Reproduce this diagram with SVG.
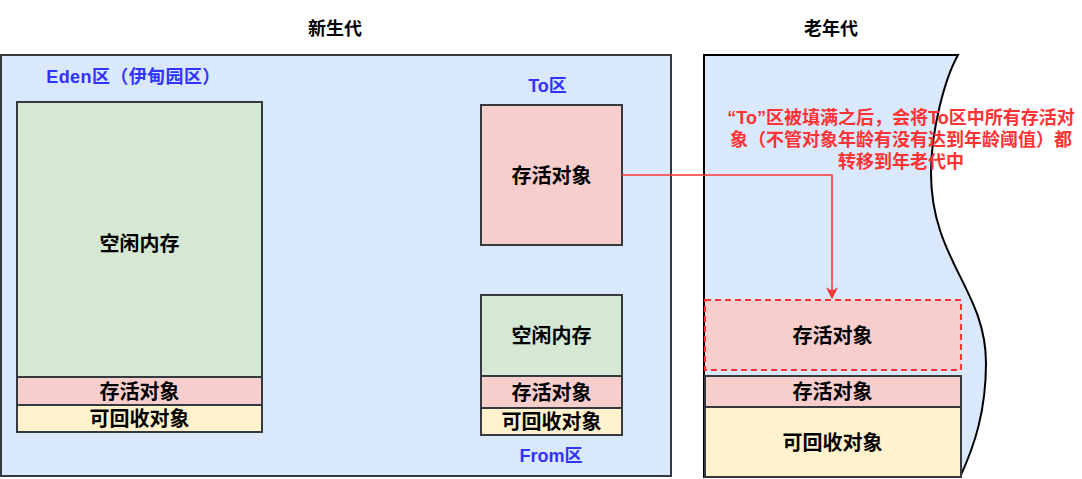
<svg xmlns="http://www.w3.org/2000/svg" width="1082" height="479" viewBox="0 0 1082 479">
  <style>
    text { font-family: "Liberation Sans", "Noto Sans CJK SC", sans-serif; font-weight: bold; text-anchor: middle; dominant-baseline: central; }
    .title { font-size: 18px; fill: #000000; }
    .zone { font-size: 18px; fill: #3333ff; }
    .note { font-size: 18px; fill: #ff3333; }
    .lbl { font-size: 20px; fill: #000000; }
    .area { fill: #dae8fc; stroke: #36393d; stroke-width: 2; }
    .free { fill: #d5e8d4; stroke: #36393d; stroke-width: 2; }
    .live { fill: #f8cecc; stroke: #36393d; stroke-width: 2; }
    .dead { fill: #fff2cc; stroke: #36393d; stroke-width: 2; }
    .moved { fill: #f8cecc; stroke: #ff3333; stroke-width: 2; stroke-dasharray: 6 4; }
    .flow { fill: none; stroke: #ff3333; stroke-width: 1.5; }
  </style>
  <defs>
    <marker id="arrowRed" viewBox="0 0 10 10" refX="9" refY="5" markerWidth="12" markerHeight="12" markerUnits="userSpaceOnUse" orient="auto">
      <path d="M0,0 L10,5 L0,10 L3,5 Z" fill="#ff3333"/>
    </marker>
  </defs>

  <rect width="1082" height="479" fill="#ffffff"/>

  <!-- young generation -->
  <g id="young-gen">
    <rect class="area" x="1" y="55" width="670" height="421"/>
    <text class="title" x="335" y="28.5">新生代</text>
  </g>

  <!-- old generation, wavy right edge -->
  <g id="old-gen">
    <path d="M704,55 L958,55 C945,78 931,130 931,173 C931,260 986,290 986,363 C986,410 975,445 960,477 L704,477 Z" fill="#dae8fc" stroke="#000000" stroke-width="2"/>
    <text class="title" x="831" y="28.5">老年代</text>
  </g>

  <!-- Eden space -->
  <g id="eden">
    <text class="zone" x="133.5" y="77" letter-spacing="0.4">Eden区（伊甸园区）</text>
    <rect class="free" x="17" y="102" width="245" height="275"/>
    <text class="lbl" x="139.5" y="244">空闲内存</text>
    <rect class="live" x="17" y="377" width="245" height="28"/>
    <text class="lbl" x="139.5" y="392">存活对象</text>
    <rect class="dead" x="17" y="405" width="245" height="27"/>
    <text class="lbl" x="139.5" y="418.5">可回收对象</text>
  </g>

  <!-- To survivor space -->
  <g id="to-space">
    <text class="zone" x="547.5" y="85.5">To区</text>
    <rect class="live" x="481" y="105" width="141" height="140"/>
    <text class="lbl" x="551.5" y="175.5">存活对象</text>
  </g>

  <!-- From survivor space -->
  <g id="from-space">
    <rect class="free" x="481" y="295" width="141" height="81"/>
    <text class="lbl" x="551.5" y="336">空闲内存</text>
    <rect class="live" x="481" y="376" width="141" height="32"/>
    <text class="lbl" x="551.5" y="392.5">存活对象</text>
    <rect class="dead" x="481" y="408" width="141" height="27"/>
    <text class="lbl" x="551.5" y="421.5">可回收对象</text>
    <text class="zone" x="551" y="455.5">From区</text>
  </g>

  <!-- old generation contents -->
  <g id="old-moved">
    <rect class="moved" x="705" y="300" width="256" height="70"/>
    <text class="lbl" x="832.5" y="336">存活对象</text>
  </g>
  <g id="old-live">
    <rect class="live" x="705" y="376" width="256" height="31"/>
    <text class="lbl" x="832.5" y="391.5">存活对象</text>
  </g>
  <g id="old-dead">
    <rect class="dead" x="705" y="407" width="256" height="70"/>
    <text class="lbl" x="832.5" y="443">可回收对象</text>
  </g>

  <!-- promotion note -->
  <g id="note">
    <text class="note" x="901" y="118">“To”区被填满之后，会将To区中所有存活对</text>
    <text class="note" x="901" y="140">象（不管对象年龄有没有达到年龄阈值）都</text>
    <text class="note" x="901" y="161.5">转移到年老代中</text>
  </g>

  <!-- connectors -->
  <g id="connectors">
    <path class="flow" d="M622,175 L832,175 L832,298" marker-end="url(#arrowRed)"/>
  </g>
</svg>
